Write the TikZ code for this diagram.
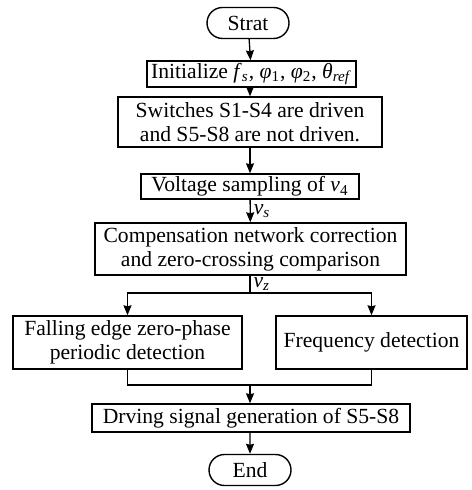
\documentclass[tikz,border=0pt]{standalone}
\usepackage{fontspec}
\setmainfont{Liberation Serif}
\usetikzlibrary{arrows.meta,shapes.misc}
\definecolor{FCInk}{HTML}{000000}
% italic symbol with a subscript, set in the text font
\newcommand{\symsub}[2]{\textit{#1}\textsubscript{#2}}
\tikzset{
  flow/.style={-{Stealth[length=5pt,width=4pt,inset=0.5pt]},draw=FCInk,line width=0.65pt},
  wire/.style={draw=FCInk,line width=0.65pt},
  stepbox/.style={draw=FCInk,line width=0.7pt,fill=white,text=FCInk,align=center,
                  inner sep=1pt,font=\fontsize{10.8}{12}\selectfont},
  termbox/.style={stepbox,rounded rectangle,minimum width=43pt,minimum height=15.5pt},
  siglabel/.style={text=FCInk,inner sep=1.5pt,font=\fontsize{10.8}{12}\selectfont},
}

\begin{document}
\begin{tikzpicture}[x=0.5pt,y=-0.5pt]
    \useasboundingbox (0,0) rectangle (471,490);

    % main column
    \node[termbox] (start) at (248,23) {Strat};
    \node[stepbox,minimum width=104.5pt,minimum height=13pt] (init) at (251.5,74)
      {Initialize \symsub{f}{\textit{s}}, \symsub{φ}{1}, \symsub{φ}{2}, \symsub{θ}{\textit{ref}}};
    \node[stepbox,minimum width=132pt,minimum height=25pt] (switch) at (250,122)
      {Switches S1-S4 are driven\\and S5-S8 are not driven.};
    \node[stepbox,minimum width=109pt,minimum height=12.5pt] (sample) at (250,186.5)
      {Voltage sampling of \symsub{v}{4}};
    \node[stepbox,minimum width=155.5pt,minimum height=26pt] (comp) at (250.5,249)
      {Compensation network correction\\and zero-crossing comparison};

    % two branches
    \node[stepbox,minimum width=114.5pt,minimum height=26.5pt] (falling) at (127.5,342.5)
      {Falling edge zero-phase\\periodic detection};
    \node[stepbox,minimum width=95.5pt,minimum height=26.5pt] (freq) at (371.5,342.5)
      {Frequency detection};

    \node[stepbox,minimum width=159pt,minimum height=14pt] (drive) at (251,418)
      {Drving signal generation of S5-S8};
    \node[termbox] (end) at (250,470) {End};

    \coordinate (split) at (250,293);
    \coordinate (merge) at (250,385);

    % connectors
    \draw[flow] (start) -- (init);
    \draw[flow] (init.south -| switch) -- (switch);
    \draw[flow] (switch) -- (sample);
    \draw[flow] (sample) -- node[siglabel,right] {\symsub{v}{\textit{s}}} (comp);
    \draw[wire] (comp.south -| split) -- node[siglabel,right] {\symsub{v}{\textit{z}}} (split);
    \draw[flow] (split) -| (falling.north);
    \draw[flow] (split) -| (freq.north);
    \draw[wire] (falling.south) |- (merge);
    \draw[wire] (freq.south) |- (merge);
    \draw[flow] (merge) -- (merge |- drive.north);
    \draw[flow] (drive.south -| end) -- (end);
  \end{tikzpicture}
\end{document}
